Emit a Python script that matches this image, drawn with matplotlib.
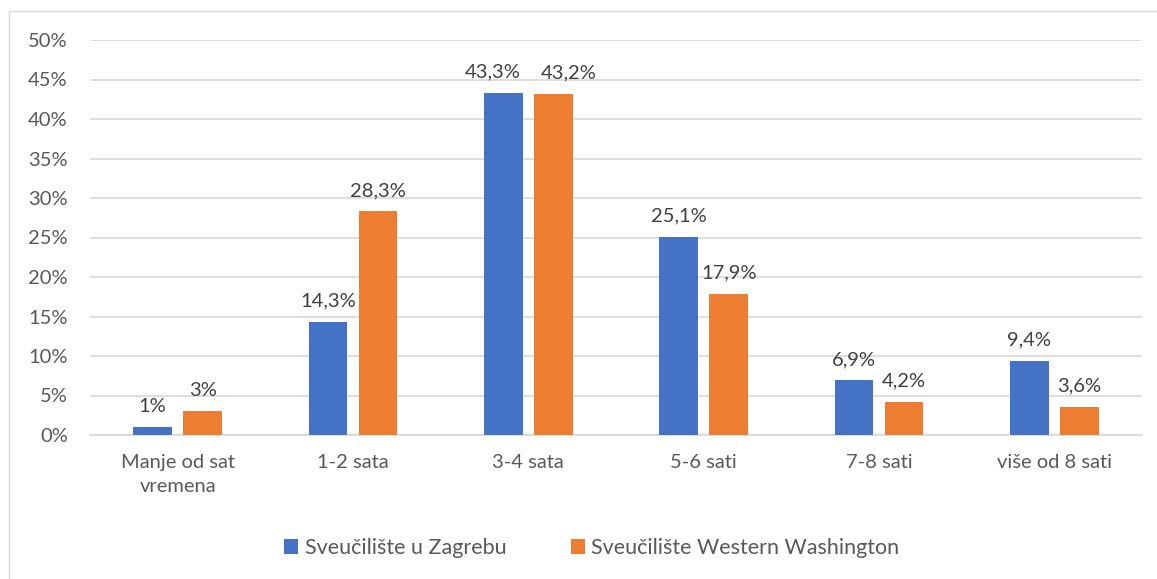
import numpy as np
import matplotlib.pyplot as plt
from matplotlib.patches import Rectangle

# Data
categories = ['Manje od sat\nvremena', '1-2 sata', '3-4 sata', '5-6 sati', '7-8 sati', 'više od 8 sati']
zagreb = [1.0, 14.3, 43.3, 25.1, 6.9, 9.4]
wwu = [3.0, 28.3, 43.2, 17.9, 4.2, 3.6]
zagreb_labels = ['1%', '14,3%', '43,3%', '25,1%', '6,9%', '9,4%']
wwu_labels = ['3%', '28,3%', '43,2%', '17,9%', '4,2%', '3,6%']
series_names = ['Sveučilište u Zagrebu', 'Sveučilište Western Washington']

blue = '#4472C4'
orange = '#ED7D31'
txt = '#595959'

plt.rcParams['font.family'] = ['Lato', 'DejaVu Sans']

fig = plt.figure(figsize=(11.57, 5.79), dpi=100)
ax = fig.add_axes([90 / 1157, 1 - 435 / 579, (1142 - 90) / 1157, (435 - 40) / 579])

# outer chart frame
fig.patches.append(Rectangle((9 / 1157, -0.05), 1.2, 1 - 11 / 579 + 0.05,
                             transform=fig.transFigure, fill=False,
                             edgecolor='#d9d9d9', lw=1))

x = np.arange(len(categories))
w = 0.222
off = (w + 0.063) / 2
b1 = ax.bar(x - off, zagreb, w, color=blue, label=series_names[0], zorder=3)
b2 = ax.bar(x + off, wwu, w, color=orange, label=series_names[1], zorder=3)

# labels of the 3-4 sata pair are pushed apart so they don't collide
for bars, labels, nudge in [(b1, zagreb_labels, -8), (b2, wwu_labels, 11)]:
    for i, (rect, lab) in enumerate(zip(bars, labels)):
        dx = nudge if i == 2 else 0
        ax.annotate(lab, (rect.get_x() + rect.get_width() / 2, rect.get_height()),
                    xytext=(dx, 9), textcoords='offset points', ha='center', va='bottom',
                    fontsize=14.5, color='#404040')

ax.set_xlim(-0.5, len(categories) - 0.5)
ax.set_ylim(0, 50)
ax.set_yticks(np.arange(0, 51, 5))
ax.set_yticklabels([f'{v}%' for v in range(0, 51, 5)])
ax.set_xticks(x)
ax.set_xticklabels(categories, linespacing=1.45)
ax.tick_params(axis='both', length=0, labelsize=14.5, colors=txt)
ax.tick_params(axis='y', pad=16)
ax.tick_params(axis='x', pad=14)

ax.grid(axis='y', color='#d9d9d9', lw=1.2, zorder=0)
for s in ['top', 'right', 'left']:
    ax.spines[s].set_visible(False)
ax.spines['bottom'].set_color('#d9d9d9')
ax.spines['bottom'].set_linewidth(1.2)

fig.legend(handles=[b1, b2], loc='center', bbox_to_anchor=(592 / 1157, 1 - 548 / 579),
           ncol=2, frameon=False, fontsize=15.5, labelcolor=txt,
           handlelength=0.65, handleheight=0.65, handletextpad=0.3, columnspacing=3.0)

fig.savefig('out.png', dpi=100)
